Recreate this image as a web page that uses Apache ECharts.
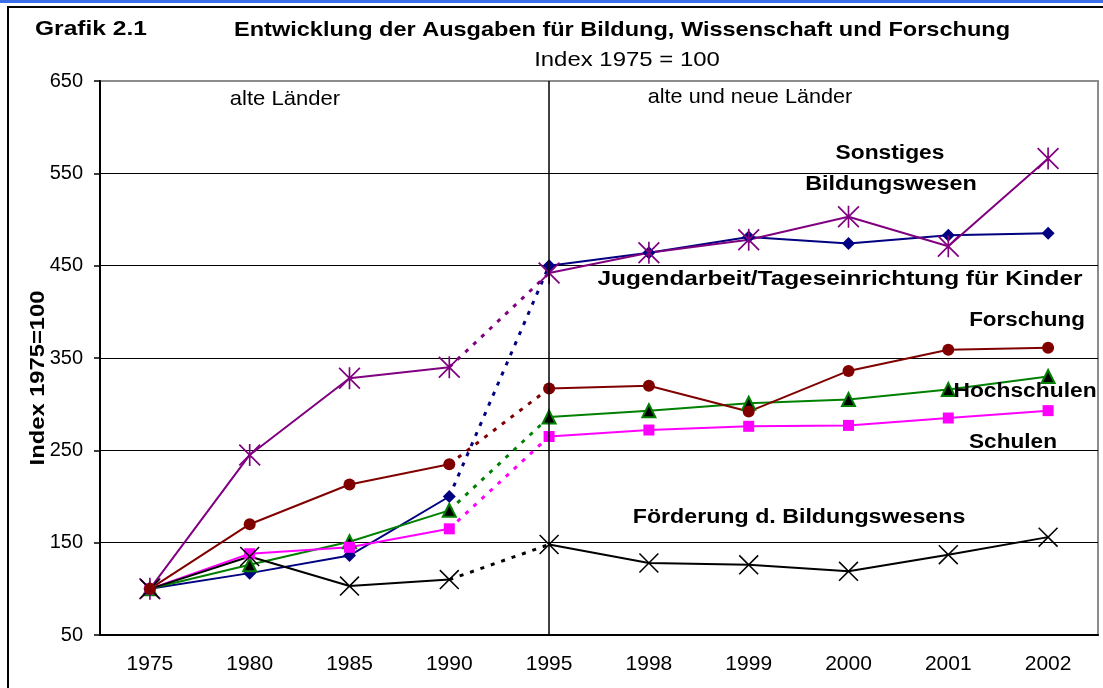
<!DOCTYPE html>
<html>
<head>
<meta charset="utf-8">
<script src="https://cdn.jsdelivr.net/npm/echarts@6/dist/echarts.min.js"></script>
<style>
  html, body { margin: 0; padding: 0; background: #fff; }
  #chart { width: 1103px; height: 688px; }
</style>
</head>
<body>
<div id="chart"></div>
<script>
// Entwicklung der Ausgaben, Index 1975 = 100
const years = ['1975', '1980', '1985', '1990', '1995', '1998', '1999', '2000', '2001', '2002'];
const yTicks = [50, 150, 250, 350, 450, 550, 650];

const jugendarbeit = [100, 117, 136, 200, 450, 464, 481, 474, 483, 485];
const sonstiges = [100, 245, 328, 340, 442, 464, 478, 503, 471, 566];
const forschung = [100, 170, 213, 235, 317, 320, 292, 336, 359, 361];
const hochschulen = [100, 126, 151, 185, 286, 293, 301, 305, 316, 330];
const schulen = [100, 138, 145, 165, 265, 272, 276, 277, 285, 293];
const foerderung = [100, 135, 103, 110, 148, 128, 126, 119, 137, 156];

// letzter Wert "alte Länder"
const lastOld = 3;

const FONT = '"Liberation Sans", Arial, sans-serif';

const xPath = 'path://M0,1.1 L1.1,0 L20,18.9 L18.9,20 Z M18.9,0 L20,1.1 L1.1,20 L0,18.9 Z';
const starPath = xPath + ' M9.25,0 L10.75,0 L10.75,20 L9.25,20 Z';

function makeSeries(name, values, color, symbol, size, itemStyle) {
  const oldPart = values.map((v, i) => (i <= lastOld ? v : '-'));
  const newPart = values.map((v, i) => (i > lastOld ? v : '-'));
  const bridge = values.map((v, i) => (i === lastOld || i === lastOld + 1 ? v : '-'));
  const base = {
    type: 'line',
    name: name,
    symbol: symbol,
    symbolSize: size,
    connectNulls: false,
    lineStyle: { color: color, width: 2 },
    itemStyle: itemStyle || { color: color },
    emphasis: { disabled: true }
  };
  return [
    {
      type: 'line',
      name: name,
      data: bridge,
      symbol: 'none',
      lineStyle: { color: color, width: 3, type: [4, 7] },
      z: 1
    },
    Object.assign({}, base, { data: oldPart, z: 3 }),
    Object.assign({}, base, { data: newPart, z: 3 })
  ];
}

const series = [].concat(
  makeSeries('Jugendarbeit/Tageseinrichtung für Kinder', jugendarbeit, '#000080', 'diamond', 13),
  makeSeries('Hochschulen', hochschulen, '#008000', 'triangle', 13,
    { color: '#000', borderColor: '#008000', borderWidth: 2 }),
  makeSeries('Schulen', schulen, '#ff00ff', 'rect', 11),
  makeSeries('Sonstiges Bildungswesen', sonstiges, '#800080', starPath, 22),
  makeSeries('Förderung d. Bildungswesens', foerderung, '#000000', xPath, 20),
  makeSeries('Forschung', forschung, '#800000', 'circle', 12)
);

// Trennlinie 1995
series.push({
  type: 'line',
  data: [],
  markLine: {
    silent: true,
    symbol: 'none',
    label: { show: false },
    lineStyle: { color: '#000', width: 1.5, type: 'solid' },
    data: [{ xAxis: '1995' }]
  }
});

function label(text, x, y, sx, opts) {
  return Object.assign({
    type: 'text',
    x: x,
    y: y,
    scaleX: sx || 1,
    style: Object.assign({
      text: text,
      fill: '#000',
      font: 'bold 20px ' + FONT,
      textAlign: 'center',
      textVerticalAlign: 'middle'
    }, (opts && opts.style) || {}),
    z: 10
  }, (opts && opts.el) || {});
}

const chart = echarts.init(document.getElementById('chart'));
chart.setOption({
  animation: false,
  backgroundColor: '#fff',
  grid: {
    left: 100, right: 5, top: 81, bottom: 53,
    show: true, borderColor: '#8c8c8c', borderWidth: 2
  },
  xAxis: {
    type: 'category',
    data: years,
    boundaryGap: true,
    axisLine: { lineStyle: { color: '#000', width: 2 } },
    axisTick: { length: 6, interval: 0, lineStyle: { color: '#000', width: 2 } },
    axisLabel: { color: '#000', fontSize: 21, fontFamily: FONT, margin: 19, interval: 0 }
  },
  yAxis: {
    type: 'value',
    min: yTicks[0],
    max: yTicks[yTicks.length - 1],
    interval: 100,
    axisLine: { show: true, lineStyle: { color: '#000', width: 2 } },
    axisTick: { show: true, length: 6, lineStyle: { color: '#000', width: 1.5 } },
    axisLabel: { color: '#000', fontSize: 20, fontFamily: FONT, margin: 17 },
    splitLine: {
      lineStyle: { color: ['#000', '#000', '#000', '#000', '#000', '#000', '#8c8c8c'], width: 1.2 }
    }
  },
  graphic: [
    { type: 'rect', shape: { x: 0, y: 0, width: 1103, height: 3 }, style: { fill: '#3b6fe8' } },
    { type: 'rect', shape: { x: 8, y: 7, width: 1120, height: 700 },
      style: { fill: 'none', stroke: '#000', lineWidth: 2 } },
    label('Grafik 2.1', 35, 29, 1.17, { style: { textAlign: 'left', font: 'bold 21px ' + FONT } }),
    label('Entwicklung der Ausgaben für Bildung, Wissenschaft und Forschung', 622, 30, 1.12,
      { style: { font: 'bold 21px ' + FONT } }),
    label('Index 1975 = 100', 627, 60, 1.14, { style: { font: '21px ' + FONT } }),
    label('Index 1975=100', 38, 378, 1.13, { el: { rotation: Math.PI / 2 }, style: { font: 'bold 21px ' + FONT } }),
    label('alte Länder', 285, 99, 1.05, { style: { font: '21px ' + FONT } }),
    label('alte und neue Länder', 750, 97, 1.03, { style: { font: '21px ' + FONT } }),
    label('Sonstiges', 890, 153, 1.14),
    label('Bildungswesen', 891, 184, 1.17),
    label('Jugendarbeit/Tageseinrichtung für Kinder', 840, 279, 1.22),
    label('Forschung', 1027, 320, 1.12),
    label('Hochschulen', 1025, 391, 1.14),
    label('Schulen', 1013, 442, 1.13),
    label('Förderung d. Bildungswesens', 799, 517, 1.16)
  ],
  series: series
});
</script>
</body>
</html>
